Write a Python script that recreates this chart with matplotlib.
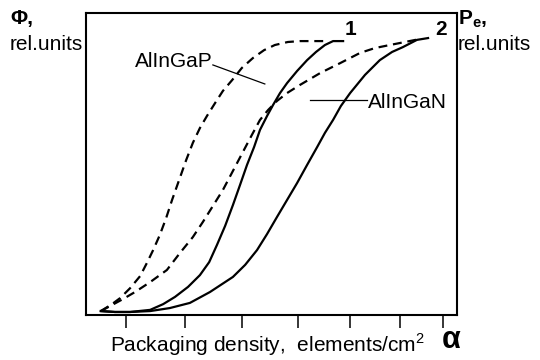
import matplotlib
matplotlib.use('Agg')
import matplotlib.pyplot as plt

plt.rcParams['font.family'] = ['Liberation Sans', 'DejaVu Sans']
plt.rcParams['mathtext.fontset'] = 'custom'
plt.rcParams['mathtext.rm'] = 'Liberation Sans'
plt.rcParams['mathtext.bf'] = 'Liberation Sans:bold'

# curves (x: packaging density, y: rel. units)
# dashed = P_e, solid = Phi
x_p_alingap = [0.040, 0.070, 0.092, 0.119, 0.146, 0.164, 0.181, 0.199, 0.216, 0.232, 0.251, 0.270,
               0.288, 0.307, 0.326, 0.348, 0.369, 0.394, 0.420, 0.450, 0.480, 0.509, 0.544, 0.577, 0.652]
y_p_alingap = [0.013, 0.036, 0.056, 0.089, 0.129, 0.172, 0.215, 0.265, 0.321, 0.381, 0.447, 0.513,
               0.570, 0.619, 0.659, 0.702, 0.742, 0.778, 0.818, 0.851, 0.877, 0.894, 0.904, 0.907, 0.907]

x_f_alingap = [0.040, 0.078, 0.119, 0.173, 0.208, 0.240, 0.275, 0.307, 0.332, 0.353, 0.375, 0.396, 0.415,
               0.434, 0.453, 0.469, 0.488, 0.504, 0.523, 0.542, 0.569, 0.596, 0.620, 0.644, 0.666, 0.693]
y_f_alingap = [0.013, 0.010, 0.010, 0.017, 0.036, 0.060, 0.093, 0.132, 0.175, 0.232, 0.295, 0.364, 0.430,
               0.497, 0.556, 0.613, 0.659, 0.695, 0.735, 0.768, 0.808, 0.844, 0.871, 0.894, 0.907, 0.907]

x_p_alingan = [0.040, 0.070, 0.100, 0.132, 0.173, 0.218, 0.253, 0.288, 0.315, 0.342, 0.369, 0.396, 0.423,
               0.447, 0.469, 0.491, 0.515, 0.542, 0.577, 0.631, 0.685, 0.739, 0.779, 0.819, 0.860, 0.900]
y_p_alingan = [0.013, 0.033, 0.053, 0.076, 0.109, 0.149, 0.205, 0.258, 0.308, 0.361, 0.414, 0.477, 0.540,
               0.596, 0.646, 0.679, 0.709, 0.735, 0.762, 0.801, 0.834, 0.868, 0.884, 0.894, 0.904, 0.914]

x_f_alingan = [0.040, 0.078, 0.119, 0.173, 0.226, 0.280, 0.334, 0.396, 0.429, 0.461, 0.488, 0.515, 0.542,
               0.569, 0.596, 0.623, 0.644, 0.666, 0.687, 0.712, 0.752, 0.792, 0.825, 0.854, 0.892, 0.922]
y_f_alingan = [0.013, 0.010, 0.010, 0.013, 0.023, 0.040, 0.076, 0.126, 0.166, 0.215, 0.268, 0.325, 0.381,
               0.437, 0.497, 0.556, 0.603, 0.646, 0.692, 0.735, 0.795, 0.844, 0.871, 0.887, 0.911, 0.917]

alpha_ticks = [0.108, 0.267, 0.420, 0.571, 0.712, 0.846, 0.962]

fig = plt.figure(figsize=(5.4, 3.6), dpi=100)
ax = fig.add_axes([86 / 540, 45 / 360, 371 / 540, 302 / 360])
ax.set_xlim(0, 1)
ax.set_ylim(0, 1)

dash = (0, (4, 2.6))
ax.plot(x_p_alingap, y_p_alingap, color='black', lw=1.6, linestyle=dash)
ax.plot(x_f_alingap, y_f_alingap, color='black', lw=1.6, solid_joinstyle='round')
ax.plot(x_p_alingan, y_p_alingan, color='black', lw=1.6, linestyle=dash)
ax.plot(x_f_alingan, y_f_alingan, color='black', lw=1.6, solid_joinstyle='round')

for s in ax.spines.values():
    s.set_linewidth(1.5)
ax.set_xticks(alpha_ticks)
ax.set_xticklabels([])
ax.set_yticks([])
ax.tick_params(axis='x', direction='out', length=9, width=1.1, color='black')

fs = 15
ax.text(0.698, 0.927, '1', fontsize=fs, fontweight='bold', ha='left', va='baseline')
ax.text(0.941, 0.927, '2', fontsize=fs, fontweight='bold', ha='left', va='baseline')

ax.text(0.132, 0.841, 'AlInGaP', fontsize=fs, ha='left', va='center')
ax.plot([0.342, 0.482], [0.828, 0.765], color='black', lw=0.9)
ax.text(0.760, 0.705, 'AlInGaN', fontsize=fs, ha='left', va='center')
ax.plot([0.604, 0.757], [0.713, 0.713], color='black', lw=0.9)

fig.text(10 / 540, 1 - 24 / 360, 'Φ,', fontsize=fs, fontweight='bold', va='baseline')
fig.text(10 / 540, 1 - 50 / 360, 'rel.units', fontsize=fs, va='baseline')
fig.text(458 / 540, 1 - 25 / 360, r'$\mathbf{P_e}$' + ',', fontsize=fs, fontweight='bold', va='baseline')
fig.text(458 / 540, 1 - 50 / 360, 'rel.units', fontsize=fs, va='baseline')

fig.text(110 / 540, 1 - 352 / 360, r'Packaging density,  elements/cm$^2$', fontsize=fs, va='baseline')
fig.text(451 / 540, 1 - 340 / 360, 'α', fontsize=22, fontweight='bold', ha='center', va='center')

fig.savefig('out.png', dpi=100)
